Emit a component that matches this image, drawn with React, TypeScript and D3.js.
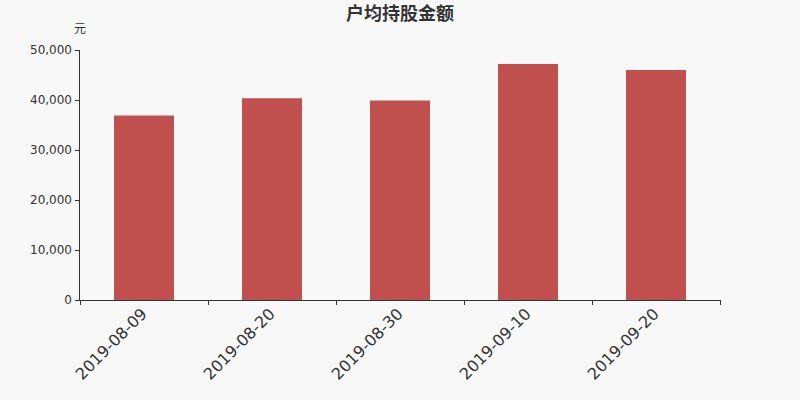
import React, { useEffect, useRef } from 'react';
import * as d3 from 'd3';

const categories = ['2019-08-09', '2019-08-20', '2019-08-30', '2019-09-10', '2019-09-20'];
const values = [36900, 40350, 39900, 47200, 46000];
const yTicks = [0, 10000, 20000, 30000, 40000, 50000];

const App: React.FC = () => {
  const svgRef = useRef<SVGSVGElement>(null);

  useEffect(() => {
    document.body.style.margin = '0';
    const svgWidth = 800;
    const svgHeight = 400;
    const margin = { top: 50, right: 80, bottom: 100, left: 80 };
    const width = svgWidth - margin.left - margin.right;
    const height = svgHeight - margin.top - margin.bottom;
    const font = '"DejaVu Sans", sans-serif';

    const root = d3.select(svgRef.current);
    root.selectAll('*').remove();
    root.attr('width', svgWidth).attr('height', svgHeight);

    // Background
    root.append('rect')
      .attr('width', svgWidth)
      .attr('height', svgHeight)
      .attr('fill', '#f8f8f8');

    // Title
    root.append('text')
      .attr('x', svgWidth / 2)
      .attr('y', 20)
      .attr('text-anchor', 'middle')
      .style('font-family', '"Noto Sans CJK SC", sans-serif')
      .style('font-size', '18px')
      .style('font-weight', 'bold')
      .attr('fill', '#333')
      .text('户均持股金额');

    const svg = root.append('g')
      .attr('transform', `translate(${margin.left},${margin.top})`);

    const xScale = d3.scaleBand<string>()
      .domain(categories)
      .range([0, width]);

    const yScale = d3.scaleLinear()
      .domain([0, 50000])
      .range([height, 0]);

    // Bars
    const barWidth = 60;
    svg.selectAll('.bar')
      .data(values)
      .enter()
      .append('rect')
      .attr('class', 'bar')
      .attr('x', (_, i) => (xScale(categories[i]) || 0) + (xScale.bandwidth() - barWidth) / 2)
      .attr('y', d => yScale(d))
      .attr('width', barWidth)
      .attr('height', d => height - yScale(d))
      .attr('fill', '#c0504d');

    // Y axis
    const yAxis = svg.append('g')
      .call(
        d3.axisLeft(yScale)
          .tickValues(yTicks)
          .tickSize(5)
          .tickPadding(3)
          .tickFormat(d => d3.format(',')(d as number))
      );
    yAxis.select('.domain').attr('stroke', '#333').attr('d', `M-0.5,${height}V0`);
    yAxis.selectAll('line').attr('stroke', '#333');
    yAxis.selectAll('text')
      .style('font-family', font)
      .style('font-size', '12px')
      .attr('fill', '#333');

    // Unit
    svg.append('text')
      .attr('x', 0)
      .attr('y', -17)
      .attr('text-anchor', 'middle')
      .style('font-family', '"Noto Sans CJK SC", sans-serif')
      .style('font-size', '12px')
      .attr('fill', '#333')
      .text('元');

    // X axis
    const xAxis = svg.append('g')
      .attr('transform', `translate(0,${height})`);
    xAxis.append('path')
      .attr('d', `M0,0.5H${width}`)
      .attr('stroke', '#333');
    const boundaries = categories.map(c => xScale(c) || 0).concat([width]);
    xAxis.selectAll('.xtick')
      .data(boundaries)
      .enter()
      .append('line')
      .attr('x1', d => d + 0.5)
      .attr('x2', d => d + 0.5)
      .attr('y1', 0)
      .attr('y2', 5)
      .attr('stroke', '#333');
    xAxis.selectAll('.xlabel')
      .data(categories)
      .enter()
      .append('text')
      .attr('transform', d => `translate(${(xScale(d) || 0) + xScale.bandwidth() / 2},${11}) rotate(-45)`)
      .attr('text-anchor', 'end')
      .attr('dy', '0.35em')
      .style('font-family', font)
      .style('font-size', '16px')
      .attr('fill', '#333')
      .text(d => d);
  }, []);

  return <svg ref={svgRef} style={{ display: 'block' }}></svg>;
};

export default App;
